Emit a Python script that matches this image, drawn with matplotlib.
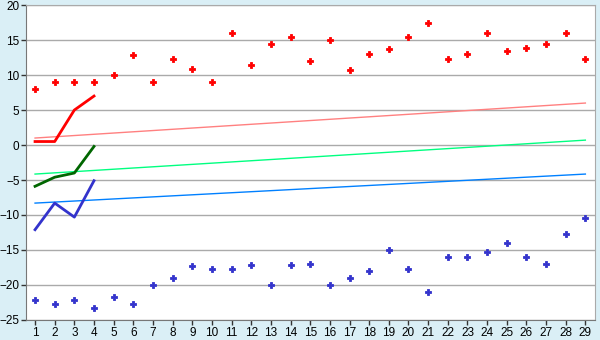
import numpy as np
import matplotlib
matplotlib.use("Agg")
import matplotlib.pyplot as plt

plt.rcParams["font.family"] = ["Liberation Sans", "DejaVu Sans"]

# Categories 1..29
days = list(range(1, 30))

# Scatter series
red_pts = [8.0, 9.0, 9.0, 9.0, 10.0, 12.86, 9.0, 12.29, 10.86, 9.0,
           16.0, 11.43, 14.43, 15.43, 12.0, 15.0, 10.71, 13.0, 13.71, 15.43,
           17.43, 12.29, 13.0, 16.0, 13.43, 13.86, 14.43, 16.0, 12.29]
blue_pts = [-22.14, -22.71, -22.14, -23.29, -21.71, -22.71, -20.0, -19.0, -17.29, -17.71,
            -17.71, -17.14, -20.0, -17.14, -17.0, -20.0, -19.0, -18.0, -15.0, -17.71,
            -21.0, -16.0, -16.0, -15.29, -14.0, -16.0, -17.0, -12.71, -10.43]

# Short line series over the first four categories
short_x = [1, 2, 3, 4]
red_line = [0.5, 0.5, 5.0, 7.0]
green_line = [-5.9, -4.6, -4.0, -0.2]
blue_line = [-12.1, -8.3, -10.3, -5.1]

# Trend lines: value at first and last category
trend_x = [1, 29]
trend_red = [1.0, 6.0]
trend_green = [-4.15, 0.7]
trend_blue = [-8.3, -4.15]

fig = plt.figure(figsize=(6, 3.4), dpi=100, facecolor="#daeff6")
ax = fig.add_axes([0.044, 0.059, 0.948, 0.926])
ax.set_facecolor("white")

# gridlines
ax.yaxis.grid(True, color="#aaaaaa", linewidth=1.0)
ax.set_axisbelow(True)

ax.plot(trend_x, trend_red, color="#ff8080", linewidth=1.0)
ax.plot(trend_x, trend_green, color="#00ff80", linewidth=1.0)
ax.plot(trend_x, trend_blue, color="#0080ff", linewidth=1.0)

ax.plot(short_x, red_line, color="#ff0000", linewidth=2.0)
ax.plot(short_x, green_line, color="#006600", linewidth=2.0)
ax.plot(short_x, blue_line, color="#3333cc", linewidth=2.0)

ax.plot(days, red_pts, linestyle="none", marker="P", markersize=4.5,
        color="#ff0000", markeredgewidth=0.6)
ax.plot(days, blue_pts, linestyle="none", marker="P", markersize=4.5,
        color="#3333cc", markeredgewidth=0.6)

ax.set_xlim(0.56, 29.5)
ax.set_ylim(-25, 20)
ax.set_xticks(days)
ax.set_yticks(np.arange(-25, 21, 5))

for s in ax.spines.values():
    s.set_color("#aaaaaa")
ax.spines["left"].set_color("#777777")
ax.spines["bottom"].set_color("#777777")
ax.tick_params(axis="both", labelsize=8.5, colors="black", length=3.5, width=1)
ax.tick_params(axis="both", color="#333333", pad=1.5)

fig.savefig("out.png", dpi=100, facecolor=fig.get_facecolor())
